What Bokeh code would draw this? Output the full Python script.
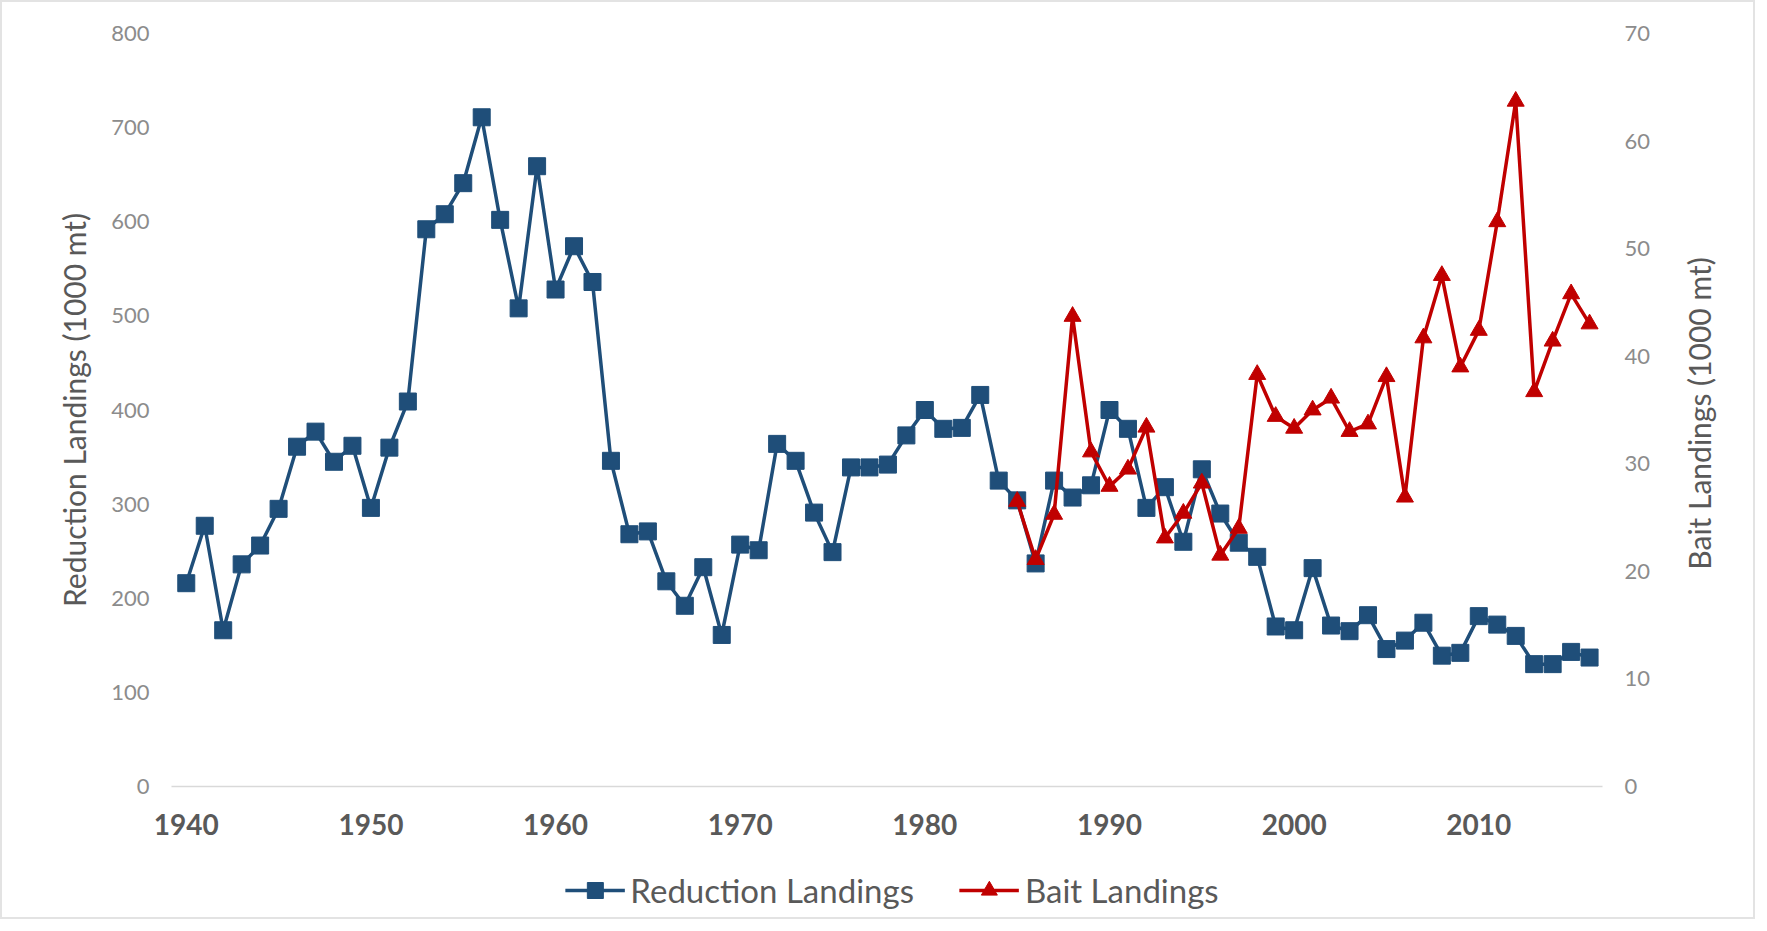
import math
from bokeh.plotting import figure
from bokeh.layouts import column, row
from bokeh.models import Range1d, LinearAxis, FixedTicker, Legend, LegendItem, Label
from bokeh.embed import file_html
from bokeh.resources import INLINE

years = list(range(1940, 2017))
reduction = [216, 277, 166, 236, 256, 295, 361, 377, 345, 362,
             296, 360, 409, 592, 608, 641, 711, 602, 508, 659,
             528, 574, 536, 346, 268, 271, 218, 192, 233, 161,
             257, 251, 364, 346, 291, 249, 339, 339, 342, 373,
             400, 380, 381, 416, 325, 304, 237, 325, 307, 320,
             400, 380, 296, 318, 260, 337, 290, 259, 244, 170,
             166, 232, 171, 165, 182, 146, 155, 174, 139, 142,
             181, 172, 160, 130, 130, 143, 137]

bait_years = list(range(1985, 2017))
bait = [26.5, 21.1, 25.3, 43.7, 31.1, 27.9, 29.5, 33.4, 23.1, 25.4,
        28.2, 21.5, 24.0, 38.3, 34.4, 33.3, 35.0, 36.1, 33.0, 33.7,
        38.1, 26.9, 41.7, 47.5, 39.0, 42.4, 52.5, 63.7, 36.7, 41.4,
        45.8, 43.0]

x_ticks = [1940, 1950, 1960, 1970, 1980, 1990, 2000, 2010]
left_ticks = [0, 100, 200, 300, 400, 500, 600, 700, 800]
right_ticks = [0, 10, 20, 30, 40, 50, 60, 70]

BLUE = "#1f4e79"
RED = "#c00000"
FONT = "Lato"


def bare(fig):
    fig.outline_line_color = None
    fig.xgrid.grid_line_color = None
    fig.ygrid.grid_line_color = None


p = figure(width=1651, height=860, output_backend="svg", toolbar_location=None,
           x_range=Range1d(1939.2, 2016.7), y_range=Range1d(0, 800),
           min_border_left=169, min_border_right=49, min_border_top=31,
           min_border_bottom=76)
bare(p)
p.extra_y_ranges = {"bait": Range1d(0, 70)}

# x axis
xa = p.xaxis[0]
xa.ticker = FixedTicker(ticks=x_ticks)
xa.axis_line_color = "#d9d9d9"
xa.axis_line_width = 1.5
xa.major_tick_line_color = None
xa.minor_tick_line_color = None
xa.major_tick_out = 0
xa.major_label_text_font = FONT
xa.major_label_text_font_style = "bold"
xa.major_label_text_font_size = "28px"
xa.major_label_text_color = "#595959"
xa.major_label_standoff = 27

# left axis
ya = p.yaxis[0]
ya.ticker = FixedTicker(ticks=left_ticks)
ya.axis_line_color = None
ya.major_tick_line_color = None
ya.minor_tick_line_color = None
ya.major_tick_out = 0
ya.major_label_text_font = FONT
ya.major_label_text_font_size = "22px"
ya.major_label_text_color = "#8c8c8c"
ya.major_label_standoff = 22
ya.axis_label = "Reduction Landings (1000 mt)"
ya.axis_label_text_font = FONT
ya.axis_label_text_font_style = "normal"
ya.axis_label_text_font_size = "30px"
ya.axis_label_text_color = "#595959"
ya.axis_label_standoff = 16

# right axis
ra = LinearAxis(y_range_name="bait")
ra.ticker = FixedTicker(ticks=right_ticks)
ra.axis_line_color = None
ra.major_tick_line_color = None
ra.minor_tick_line_color = None
ra.major_tick_out = 0
ra.major_label_text_font = FONT
ra.major_label_text_font_size = "22px"
ra.major_label_text_color = "#8c8c8c"
ra.major_label_standoff = 22
p.add_layout(ra, "right")

p.line(years, reduction, line_color=BLUE, line_width=3.5)
p.scatter(years, reduction, marker="square", size=17,
          fill_color=BLUE, line_color=BLUE)
p.line(bait_years, bait, line_color=RED, line_width=3.5, y_range_name="bait")
p.scatter(bait_years, bait, marker="triangle", size=17,
          fill_color=RED, line_color=RED, y_range_name="bait")

# right axis title strip (reads bottom-to-top like the left one)
tf = figure(width=100, height=860, output_backend="svg", toolbar_location=None,
            x_axis_type=None, y_axis_type=None, min_border=0,
            x_range=Range1d(0, 100), y_range=Range1d(0, 860))
bare(tf)
tf.add_layout(Label(x=45, y=426, text="Bait Landings (1000 mt)", angle=math.pi / 2,
                    text_align="center", text_baseline="middle",
                    text_font=FONT, text_font_size="30px", text_color="#595959"))

# legend strip below the chart
lf = figure(width=1751, height=55, output_backend="svg", toolbar_location=None,
            x_axis_type=None, y_axis_type=None, min_border=0, min_border_left=28,
            x_range=Range1d(0, 1), y_range=Range1d(0, 1))
bare(lf)
l1 = lf.line([-5, -4], [-5, -4], line_color=BLUE, line_width=3.5)
m1 = lf.scatter([-5], [-5], marker="square", size=17, fill_color=BLUE, line_color=BLUE)
l2 = lf.line([-5, -4], [-5, -4], line_color=RED, line_width=3.5)
m2 = lf.scatter([-5], [-5], marker="triangle", size=17, fill_color=RED, line_color=RED)

legend = Legend(items=[LegendItem(label="Reduction Landings", renderers=[l1, m1]),
                       LegendItem(label="Bait Landings", renderers=[l2, m2])],
                orientation="horizontal", location="center",
                label_text_font=FONT, label_text_font_size="33px",
                label_text_color="#595959", glyph_width=60, glyph_height=40,
                spacing=45, label_standoff=6, margin=0, padding=0,
                border_line_color=None, background_fill_alpha=0)
lf.add_layout(legend, "center")

layout = column(row(p, tf, spacing=0), lf, spacing=0)
layout.styles = {"border": "2px solid #e3e3e3"}

open("out.html", "w").write(file_html(layout, INLINE))
